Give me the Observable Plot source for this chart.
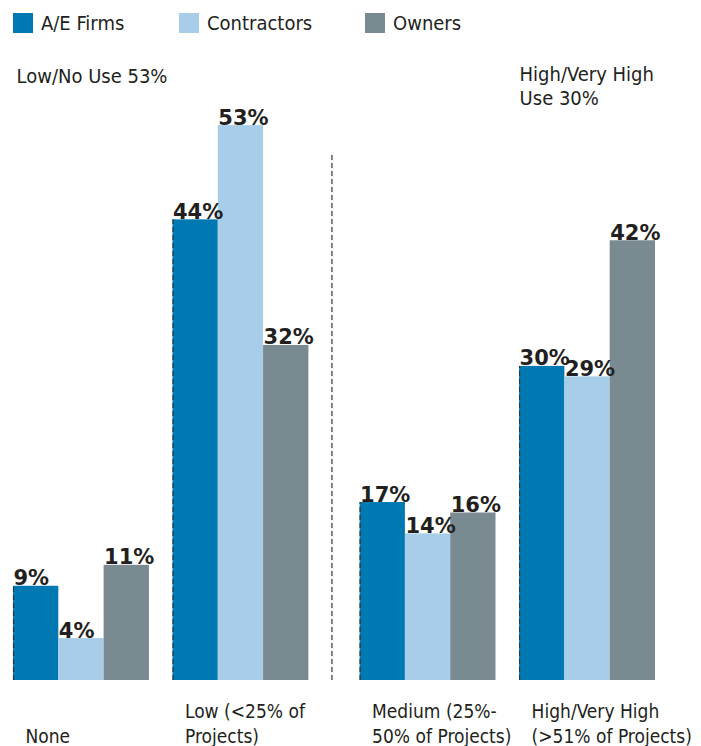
<!DOCTYPE html>
<html>
<head>
<meta charset="utf-8">
<script src="https://cdn.jsdelivr.net/npm/d3@7"></script>
<script src="https://cdn.jsdelivr.net/npm/@observablehq/plot@0.6"></script>
<style>
  html, body { margin: 0; padding: 0; background: #fff; }
  body { width: 701px; height: 746px; overflow: hidden; position: relative;
         font-family: "DejaVu Sans Condensed", "Liberation Sans Narrow", sans-serif; }
  #legend { position: relative; height: 45px; }
  .item { position: absolute; top: 13px; display: flex; align-items: center; font-size: 20px; color: #231f20; line-height: 20px; }
  .sw { width: 20px; height: 20px; margin-right: 8px; }
  #chart svg { display: block; }
</style>
</head>
<body>
<div id="legend"></div>
<div id="chart"></div>
<script>
// ---- data ----
const categories = ["None", "Low (<25% of\nProjects)", "Medium (25%-\n50% of Projects)", "High/Very High\n(>51% of Projects)"];
const series = ["A/E Firms", "Contractors", "Owners"];
const aeFirms = [9, 44, 17, 30];
const contractors = [4, 53, 14, 29];
const owners = [11, 32, 16, 42];
const groupNotes = ["Low/No Use 53%", "High/Very High\nUse 30%"];

const colors = ["#0079b3", "#a7cde8", "#798a91"];
const values = [aeFirms, contractors, owners];

// ---- layout helpers (bar-width units) ----
const gap = 0.52, midGap = 1.13;
const groupStart = gi => gi * (3 + gap) + (gi >= 2 ? midGap - gap : 0);
const totalWidth = groupStart(3) + 3;

const bars = [];
categories.forEach((c, gi) => {
  series.forEach((s, si) => {
    const x1 = groupStart(gi) + si;
    bars.push({category: c, series: s, value: values[si][gi], x1, x2: x1 + 1});
  });
});
const groups = categories.map((c, gi) => ({category: c, x: groupStart(gi), first: aeFirms[gi]}));
const dividerX = groupStart(1) + 3 + midGap * 0.45;

// legend
const legend = document.getElementById("legend");
const legendLeft = [13, 179, 365];
series.forEach((s, i) => {
  const d = document.createElement("div");
  d.className = "item";
  d.style.left = legendLeft[i] + "px";
  d.innerHTML = `<span class="sw" style="background:${colors[i]}"></span><span>${s}</span>`;
  legend.appendChild(d);
});

const narrow = "'DejaVu Sans Condensed', 'Liberation Sans Narrow', sans-serif";

const plot = Plot.plot({
  width: 701,
  height: 701,
  marginLeft: 13,
  marginRight: 701 - 655,
  marginTop: 0,
  marginBottom: 0,
  x: {domain: [0, totalWidth], axis: null},
  y: {domain: [0, 53], range: [635, 635 - 53 * 10.47], axis: null},
  color: {domain: series, range: colors},
  style: {fontFamily: narrow, overflow: "visible"},
  marks: [
    Plot.rect(bars, {x1: "x1", x2: "x2", y1: 0, y2: "value", fill: "series"}),
    Plot.ruleX(groups, {x: "x", y1: "first", stroke: "#333", strokeWidth: 1.2, strokeDasharray: "5,3"}),
    Plot.ruleX([dividerX], {x: d => d, y1: 50.3, stroke: "#333", strokeWidth: 1.2, strokeDasharray: "5,3"}),
    Plot.text(bars, {x: "x1", y: "value", text: d => d.value + "%", textAnchor: "start", lineAnchor: "bottom", dy: -1,
      fontFamily: "DejaVu Sans", fontWeight: "bold", fontSize: 21, fill: "#231f20"}),
    Plot.text(groups, {x: "x", text: "category", frameAnchor: "bottom", lineAnchor: "bottom", textAnchor: "start",
      dx: 12, dy: -4, fontSize: 19, lineHeight: 1.27, fill: "#231f20"}),
    Plot.text([groupNotes[0]], {x: groupStart(0), text: d => d, frameAnchor: "top", lineAnchor: "top", textAnchor: "start",
      dx: 3, dy: 23, fontSize: 20, fill: "#231f20"}),
    Plot.text([groupNotes[1]], {x: groupStart(3), text: d => d, frameAnchor: "top", lineAnchor: "top", textAnchor: "start",
      dx: 0, dy: 18, fontSize: 20, lineHeight: 1.2, fill: "#231f20"})
  ]
});
document.getElementById("chart").appendChild(plot);
</script>
</body>
</html>
